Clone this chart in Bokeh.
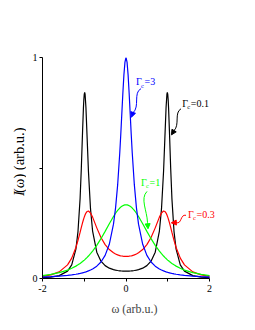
import math
from bokeh.plotting import figure
from bokeh.layouts import row
from bokeh.models import Range1d, FixedTicker, Arrow, NormalHead
from bokeh.core.properties import value
from bokeh.embed import file_html
from bokeh.resources import INLINE

# ---------------- data ----------------
omega = [-2.0, -1.8, -1.6, -1.4, -1.3, -1.2, -1.15, -1.1, -1.07, -1.04, -1.02, -1.01,
         -1.0, -0.99, -0.98, -0.96, -0.93, -0.9, -0.85, -0.8, -0.7, -0.6, -0.5, -0.4,
         -0.3, -0.25, -0.2, -0.15, -0.125, -0.1, -0.075, -0.05, -0.025,
         0.0,
         0.025, 0.05, 0.075, 0.1, 0.125, 0.15, 0.2, 0.25, 0.3, 0.4, 0.5, 0.6, 0.7,
         0.8, 0.85, 0.9, 0.93, 0.96, 0.98, 0.99, 1.0, 1.01, 1.02, 1.04, 1.07, 1.1,
         1.15, 1.2, 1.3, 1.4, 1.6, 1.8, 2.0]

I_gamma_01 = [0.0036, 0.0065, 0.0131, 0.0333, 0.0613, 0.1327, 0.2124, 0.3604, 0.4991, 0.6677, 0.7708, 0.8089,
              0.8333, 0.8418, 0.8337, 0.7750, 0.6307, 0.4866, 0.3148, 0.2148, 0.1192, 0.0786, 0.0582, 0.0468,
              0.0401, 0.0378, 0.0361, 0.0349, 0.0344, 0.0340, 0.0337, 0.0335, 0.0334,
              0.0333,
              0.0334, 0.0335, 0.0337, 0.0340, 0.0344, 0.0349, 0.0361, 0.0378, 0.0401, 0.0468, 0.0582, 0.0786, 0.1192,
              0.2148, 0.3148, 0.4866, 0.6307, 0.7750, 0.8337, 0.8418, 0.8333, 0.8089, 0.7708, 0.6677, 0.4991, 0.3604,
              0.2124, 0.1327, 0.0613, 0.0333, 0.0131, 0.0065, 0.0036]

I_gamma_03 = [0.0096, 0.0162, 0.0298, 0.0615, 0.0922, 0.1404, 0.1724, 0.2085, 0.2309, 0.2525, 0.2658, 0.2720,
              0.2778, 0.2831, 0.2879, 0.2959, 0.3034, 0.3052, 0.2966, 0.2778, 0.2291, 0.1855, 0.1533, 0.1310,
              0.1162, 0.1109, 0.1068, 0.1038, 0.1026, 0.1017, 0.1009, 0.1004, 0.1001,
              0.1000,
              0.1001, 0.1004, 0.1009, 0.1017, 0.1026, 0.1038, 0.1068, 0.1109, 0.1162, 0.1310, 0.1533, 0.1855, 0.2291,
              0.2778, 0.2966, 0.3052, 0.3034, 0.2959, 0.2879, 0.2831, 0.2778, 0.2720, 0.2658, 0.2525, 0.2309, 0.2085,
              0.1724, 0.1404, 0.0922, 0.0615, 0.0298, 0.0162, 0.0096]

I_gamma_1 = [0.0133, 0.0185, 0.0263, 0.0380, 0.0461, 0.0560, 0.0618, 0.0682, 0.0725, 0.0769, 0.0801, 0.0817,
             0.0833, 0.0850, 0.0867, 0.0903, 0.0958, 0.1017, 0.1123, 0.1239, 0.1501, 0.1802, 0.2133, 0.2477,
             0.2806, 0.2953, 0.3082, 0.3188, 0.3232, 0.3268, 0.3296, 0.3317, 0.3329,
             0.3333,
             0.3329, 0.3317, 0.3296, 0.3268, 0.3232, 0.3188, 0.3082, 0.2953, 0.2806, 0.2477, 0.2133, 0.1802, 0.1501,
             0.1239, 0.1123, 0.1017, 0.0958, 0.0903, 0.0867, 0.0850, 0.0833, 0.0817, 0.0801, 0.0769, 0.0725, 0.0682,
             0.0618, 0.0560, 0.0461, 0.0380, 0.0263, 0.0185, 0.0133]

I_gamma_3 = [0.0065, 0.0082, 0.0106, 0.0140, 0.0163, 0.0192, 0.0210, 0.0229, 0.0242, 0.0257, 0.0267, 0.0272,
             0.0278, 0.0283, 0.0289, 0.0301, 0.0321, 0.0343, 0.0383, 0.0432, 0.0559, 0.0748, 0.1046, 0.1547,
             0.2458, 0.3196, 0.4234, 0.5664, 0.6530, 0.7462, 0.8394, 0.9217, 0.9790,
             1.0000,
             0.9790, 0.9217, 0.8394, 0.7462, 0.6530, 0.5664, 0.4234, 0.3196, 0.2458, 0.1547, 0.1046, 0.0748, 0.0559,
             0.0432, 0.0383, 0.0343, 0.0321, 0.0301, 0.0289, 0.0283, 0.0278, 0.0272, 0.0267, 0.0257, 0.0242, 0.0229,
             0.0210, 0.0192, 0.0163, 0.0140, 0.0106, 0.0082, 0.0065]

x_ticks = [-2, -1, 0, 1, 2]
x_tick_labels = ["-2", "", "0", "", "2"]
y_ticks = [0, 0.5, 1]
y_tick_labels = ["0", "", "1"]

series_names = ["0.1", "0.3", "1", "3"]
series_values = [I_gamma_01, I_gamma_03, I_gamma_1, I_gamma_3]

# ---------------- styling / annotation placement ----------------
colors = ["#000000", "#ff0000", "#00ff00", "#0000ff"]
label_xy = [(1.35, 0.792), (1.485, 0.290), (0.36, 0.435), (0.24, 0.890)]
arrow_paths = [
    [(1.317, 0.768), (1.150, 0.750), (1.293, 0.696), (1.150, 0.669), (1.090, 0.650)],
    [(1.437, 0.286), (1.293, 0.292), (1.341, 0.243), (1.198, 0.253), (1.085, 0.252)],
    [(0.503, 0.394), (0.335, 0.362), (0.503, 0.308), (0.515, 0.254), (0.527, 0.225)],
    [(0.359, 0.859), (0.168, 0.841), (0.335, 0.777), (0.168, 0.750), (0.130, 0.730)],
]

SERIF = "Liberation Serif"
TOTAL_H = 316
LAB_W = 26

# ---------------- narrow side panel holding the y-axis title ----------------
lab = figure(width=LAB_W, height=TOTAL_H, min_border=0,
             x_range=Range1d(0, LAB_W), y_range=Range1d(0, TOTAL_H),
             x_axis_type=None, y_axis_type=None,
             output_backend="svg", toolbar_location=None)
lab.grid.visible = False
lab.outline_line_color = None
lab.text([18.5], [TOTAL_H - 200], text=["I"], angle=math.pi / 2,
         text_font=value(SERIF), text_font_size=value("14.5px"), text_font_style="italic",
         text_color="black", text_align="left", text_baseline="middle")
lab.text([18.5], [TOTAL_H - 195.5], text=["(ω) (arb.u.)"], angle=math.pi / 2,
         text_font=value(SERIF), text_font_size=value("14.5px"),
         text_color="black", text_align="left", text_baseline="middle")

# ---------------- main plot ----------------
p = figure(frame_width=184, frame_height=221,
           min_border_left=42 - LAB_W, min_border_right=8, min_border_top=57, min_border_bottom=38,
           x_range=Range1d(-2, 2.407), y_range=Range1d(0, 1),
           output_backend="svg", toolbar_location=None)
p.grid.visible = False
p.outline_line_color = None
p.background_fill_color = "white"

for ax in (p.xaxis[0], p.yaxis[0]):
    ax.axis_line_color = "black"
    ax.axis_line_width = 1
    ax.major_tick_out = 3
    ax.major_tick_in = 0
    ax.minor_tick_out = 0
    ax.minor_tick_in = 0
    ax.major_label_text_font = SERIF
    ax.major_label_text_font_size = "10px"
    ax.major_label_text_color = "black"

p.xaxis.ticker = FixedTicker(ticks=x_ticks)
p.xaxis.bounds = (x_ticks[0], x_ticks[-1])
p.xaxis.major_label_overrides = {t: l for t, l in zip(x_ticks, x_tick_labels)}
p.xaxis.major_label_standoff = 3
p.xaxis.axis_label = "ω (arb.u.)"
p.xaxis.axis_label_text_font = SERIF
p.xaxis.axis_label_text_font_size = "12px"
p.xaxis.axis_label_text_font_style = "normal"
p.xaxis.axis_label_standoff = 7

p.yaxis.ticker = FixedTicker(ticks=y_ticks)
p.yaxis.major_label_overrides = {t: l for t, l in zip(y_ticks, y_tick_labels)}
p.yaxis.major_label_standoff = 2

for vals, c in zip(series_values, colors):
    p.line(omega, vals, line_color=c, line_width=1.2)

for name, c, (lx, ly) in zip(series_names, colors, label_xy):
    p.text([lx], [ly], text=["Γ"], text_font=value(SERIF), text_font_size=value("10px"),
           text_color=c, text_align="left", text_baseline="middle")
    p.text([lx], [ly], text=["c"], text_font=value(SERIF), text_font_size=value("6.5px"),
           text_color=c, text_align="left", text_baseline="middle", x_offset=5, y_offset=3.5)
    p.text([lx], [ly], text=["=" + name], text_font=value(SERIF), text_font_size=value("10px"),
           text_color=c, text_align="left", text_baseline="middle", x_offset=8.5)

for path, c in zip(arrow_paths, colors):
    (x0, y0), (cx0, cy0), (cx1, cy1), (x1, y1), (xt, yt) = path
    p.bezier(x0=[x0], y0=[y0], cx0=[cx0], cy0=[cy0], cx1=[cx1], cy1=[cy1], x1=[x1], y1=[y1],
             line_color=c, line_width=1)
    p.add_layout(Arrow(end=NormalHead(size=5, fill_color=c, line_color=c, line_width=1),
                       x_start=x1, y_start=y1, x_end=xt, y_end=yt,
                       line_color=c, line_width=1))

layout = row(lab, p, spacing=0)
open("out.html", "w").write(file_html(layout, INLINE))
